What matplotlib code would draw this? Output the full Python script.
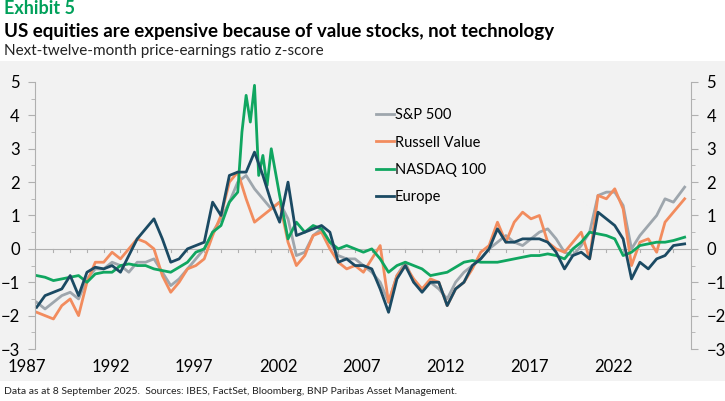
import matplotlib
matplotlib.use("Agg")
import matplotlib.pyplot as plt
import numpy as np

plt.rcParams['font.family'] = ['Lato', 'DejaVu Sans']

# --- DATA (semi-annual readings) ---
half_years = list(np.arange(1987.0, 2025.01, 0.5)) + [2025.67]

sp500 = [-1.6, -1.8, -1.6, -1.4, -1.3, -1.5, -0.9, -0.6, -0.6, -0.4,
         -0.5, -0.7, -0.4, -0.4, -0.3, -0.7, -1.1, -0.9, -0.6, -0.3,
         0.0, 0.5, 0.9, 1.4, 2.0, 2.2, 1.8, 1.5, 1.2, 1.4,
         0.9, -0.2, -0.1, 0.4, 0.6, 0.2, -0.2, -0.3, -0.3, -0.5,
         -0.7, -1.0, -1.6, -0.8, -0.4, -1.0, -1.2, -1.0, -1.2, -1.5,
         -1.0, -0.7, -0.5, -0.3, 0.0, 0.2, 0.4, 0.2, 0.1, 0.3,
         0.5, 0.6, 0.3, -0.1, -0.2, 0.1, 0.5, 1.6, 1.7, 1.7,
         1.3, 0.0, 0.4, 0.7, 1.0, 1.5, 1.4, 1.85]

russell_value = [-1.9, -2.0, -2.1, -1.7, -1.5, -2.0, -1.0, -0.4, -0.4, -0.1,
                 -0.3, 0.0, 0.3, 0.2, 0.0, -0.8, -1.3, -1.0, -0.6, -0.5,
                 -0.3, 0.4, 1.0, 2.0, 2.3, 1.5, 0.8, 1.0, 1.2, 1.4,
                 0.2, -0.5, -0.2, 0.4, 0.5, 0.0, -0.4, -0.6, -0.5, -0.7,
                 -0.3, 0.1, -1.6, -0.8, -0.5, -0.9, -1.2, -0.9, -1.0, -1.7,
                 -1.2, -1.0, -0.6, -0.1, 0.1, 0.8, 0.2, 0.8, 1.1, 0.9,
                 1.0, 0.2, 0.0, -0.1, 0.2, 0.5, -0.3, 1.6, 1.5, 1.8,
                 1.2, -0.5, 0.2, 0.3, -0.1, 0.8, 1.1, 1.5]

europe = [-1.75, -1.4, -1.3, -1.2, -0.8, -1.4, -0.7, -0.55, -0.6, -0.5,
          -0.7, -0.2, 0.3, 0.6, 0.9, 0.3, -0.4, -0.3, 0.0, 0.1,
          0.2, 1.4, 1.0, 2.2, 2.3, 2.3, 2.9, 2.2, 1.4, 0.8,
          2.0, 0.4, 0.5, 0.6, 0.7, 0.5, -0.4, -0.3, -0.5, -0.5,
          -0.6, -1.2, -1.9, -0.9, -0.5, -1.0, -1.3, -1.0, -1.0, -1.7,
          -1.2, -1.0, -0.5, -0.3, 0.0, 0.6, 0.2, 0.2, 0.3, 0.3,
          0.3, 0.2, -0.1, -0.6, -0.2, -0.1, -0.3, 1.1, 0.9, 0.7,
          0.3, -0.9, -0.4, -0.6, -0.3, -0.2, 0.1, 0.15]

nasdaq_years = [1987, 1987.5, 1988, 1988.5, 1989, 1989.5, 1990, 1990.5, 1991, 1991.5,
                1992, 1992.5, 1993, 1993.5, 1994, 1994.5, 1995, 1995.5, 1996, 1996.5,
                1997, 1997.5, 1998, 1998.5, 1999, 1999.25, 1999.5, 1999.75, 2000, 2000.25,
                2000.5, 2000.75, 2001, 2001.5, 2002, 2002.5, 2003, 2003.5, 2004, 2004.5,
                2005, 2005.5, 2006, 2006.5, 2007, 2007.5, 2008, 2008.5, 2009, 2009.5,
                2010, 2010.5, 2011, 2011.5, 2012, 2012.5, 2013, 2013.5, 2014, 2014.5,
                2015, 2015.5, 2016, 2016.5, 2017, 2017.5, 2018, 2018.5, 2019, 2019.5,
                2020, 2020.5, 2021, 2021.5, 2022, 2022.5, 2023, 2023.5, 2024, 2024.5,
                2025, 2025.67]
nasdaq100 = [-0.8, -0.85, -0.95, -0.9, -0.85, -0.8, -1.0, -0.75, -0.7, -0.7,
             -0.5, -0.45, -0.5, -0.5, -0.6, -0.65, -0.7, -0.55, -0.4, -0.1,
             0.0, 0.5, 0.7, 1.4, 1.7, 3.5, 4.6, 3.8, 4.9, 2.2,
             2.8, 1.9, 3.0, 1.6, 0.3, 0.8, 0.5, 0.7, 0.6, 0.2,
             0.0, 0.1, 0.0, -0.1, 0.0, -0.3, -0.7, -0.5, -0.4, -0.5,
             -0.6, -0.8, -0.75, -0.7, -0.55, -0.4, -0.35, -0.4, -0.4, -0.4,
             -0.35, -0.3, -0.25, -0.2, -0.2, -0.15, -0.2, -0.3, 0.0, 0.2,
             0.5, 0.45, 0.4, 0.3, -0.2, -0.1, 0.1, 0.15, 0.2, 0.2,
             0.25, 0.35]

label_years = [1987, 1992, 1997, 2002, 2007, 2012, 2017, 2022]
yticks = [-3, -2, -1, 0, 1, 2, 3, 4, 5]

# --- FIGURE ---
W, H = 725, 401
fig = plt.figure(figsize=(W / 100, H / 100), dpi=100)

# grey panel behind the chart
bg = fig.add_axes([0, 20 / H, 1, 320 / H], zorder=-5)
bg.set_facecolor('#f2f2f2')
bg.set_xticks([])
bg.set_yticks([])
for s in bg.spines.values():
    s.set_visible(False)

ax = fig.add_axes([35 / W, (H - 349) / H, (691 - 35) / W, 267 / H], zorder=1)
ax.set_facecolor('none')
ax.set_xlim(1986.9, 2026.05)
ax.set_ylim(-3, 5)

ax.plot(half_years, sp500, color='#9ea6ad', lw=2, label='S&P 500', clip_on=False)
ax.plot(half_years, russell_value, color='#f28c5e', lw=2, label='Russell Value', clip_on=False)
ax.plot(nasdaq_years, nasdaq100, color='#10a660', lw=2, label='NASDAQ 100', clip_on=False)
ax.plot(half_years, europe, color='#1b4a63', lw=2, label='Europe', clip_on=False)

ax.axhline(0, color='#b0b0b0', lw=0.8, zorder=0)
for yr in range(1988, 2026):
    ax.plot([yr, yr], [0, -0.08], color='#b0b0b0', lw=0.8, zorder=0)

for s in ['top', 'bottom']:
    ax.spines[s].set_visible(False)
for s in ['left', 'right']:
    ax.spines[s].set_color('#b0b0b0')
ax.set_xticks([])
ax.set_yticks(yticks)
ax.set_yticks(np.arange(-3, 5.01, 0.5), minor=True)
ax.tick_params(axis='y', which='both', color='#b0b0b0', labelsize=12, length=5,
               right=True, labelright=True, pad=6)
ax.tick_params(axis='y', which='minor', length=3)

for yr in label_years:
    ax.text(yr - 0.6, -3.55, str(yr), ha='center', va='center', fontsize=12)

leg = ax.legend(loc='upper left', bbox_to_anchor=(0.5, 0.95), frameon=False,
                handlelength=1.2, handletextpad=0.1, labelspacing=0.9, fontsize=10.5)

fig.text(4 / W, 1 - 9 / H, 'Exhibit 5', color='#00a05a', fontsize=13, weight='bold', va='center')
fig.text(4 / W, 1 - 31 / H, 'US equities are expensive because of value stocks, not technology',
         fontsize=13.5, weight='bold', va='center')
fig.text(4 / W, 1 - 51 / H, 'Next-twelve-month price-earnings ratio z-score',
         fontsize=11, va='center', color='#222222')
fig.text(4 / W, 1 - 392 / H, 'Data as at 8 September 2025.  Sources: IBES, FactSet, Bloomberg, BNP Paribas Asset Management.',
         fontsize=7.5, va='center', color='#222222')

fig.savefig('out.png', dpi=100)
